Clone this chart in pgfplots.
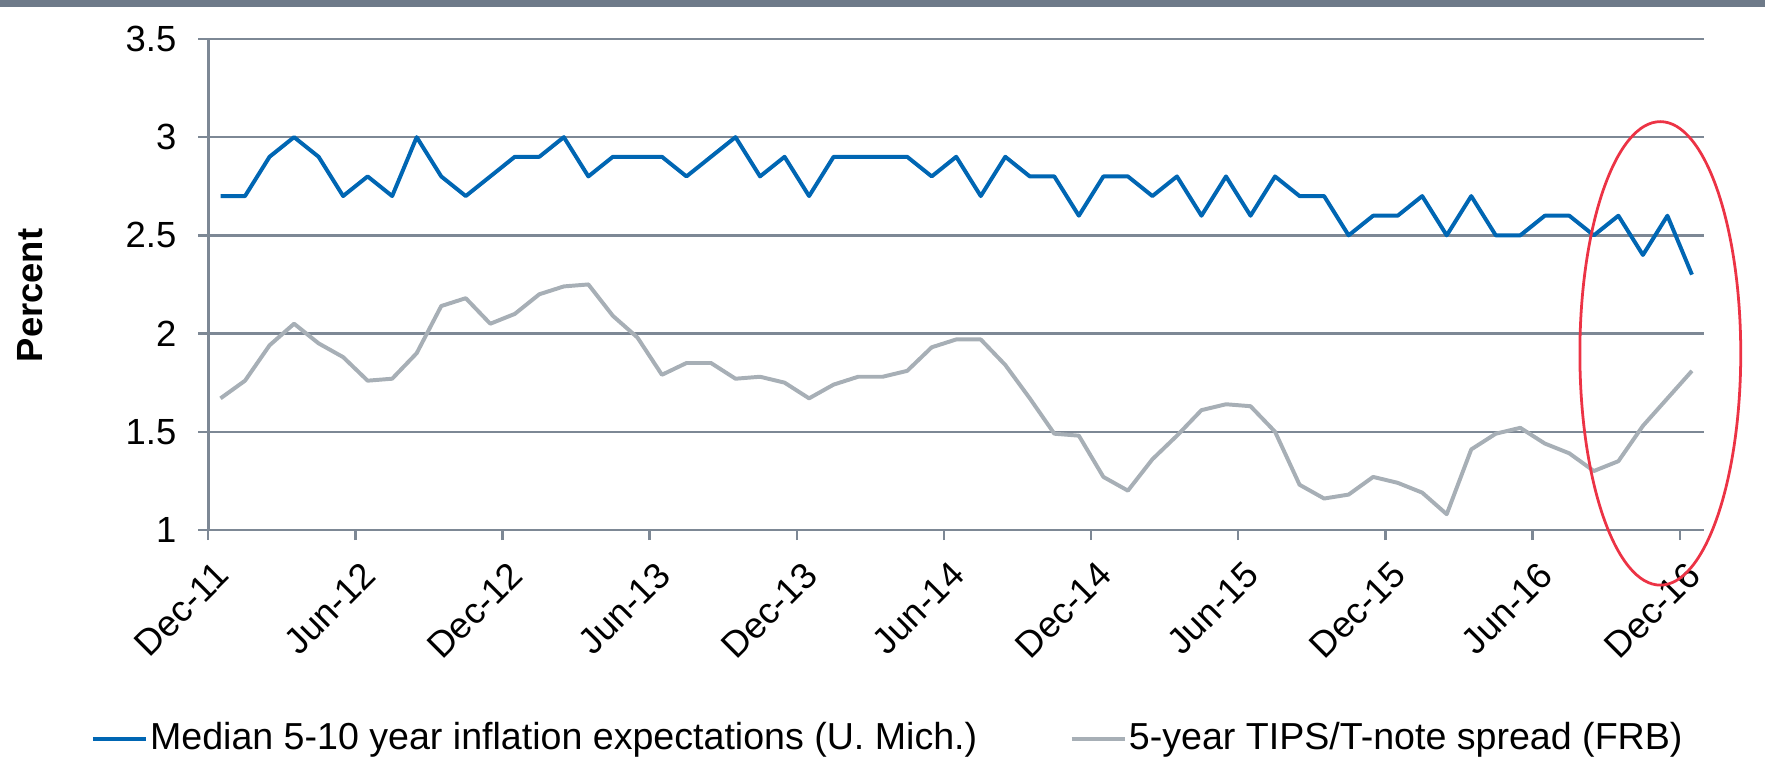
\documentclass[border=0pt]{standalone}
\usepackage{fontspec}
\setmainfont{Liberation Sans}
\usepackage{pgfplots}
\usepackage{pgfplotstable}
\pgfplotsset{compat=1.18}

\definecolor{michblue}{HTML}{0066B3}
\definecolor{tipsgray}{HTML}{A7AFB6}
\definecolor{axisgray}{HTML}{7D8895}
\definecolor{topbar}{HTML}{6E7A89}
\definecolor{ringred}{HTML}{EC3345}

% month index: 0 = Dec-11 ... 60 = Dec-16
\pgfplotstableread{
x  mich tips
0  2.7  1.67
1  2.7  1.76
2  2.9  1.94
3  3.0  2.05
4  2.9  1.95
5  2.7  1.88
6  2.8  1.76
7  2.7  1.77
8  3.0  1.90
9  2.8  2.14
10 2.7  2.18
11 2.8  2.05
12 2.9  2.10
13 2.9  2.20
14 3.0  2.24
15 2.8  2.25
16 2.9  2.09
17 2.9  1.98
18 2.9  1.79
19 2.8  1.85
20 2.9  1.85
21 3.0  1.77
22 2.8  1.78
23 2.9  1.75
24 2.7  1.67
25 2.9  1.74
26 2.9  1.78
27 2.9  1.78
28 2.9  1.81
29 2.8  1.93
30 2.9  1.97
31 2.7  1.97
32 2.9  1.84
33 2.8  1.67
34 2.8  1.49
35 2.6  1.48
36 2.8  1.27
37 2.8  1.20
38 2.7  1.36
39 2.8  1.48
40 2.6  1.61
41 2.8  1.64
42 2.6  1.63
43 2.8  1.50
44 2.7  1.23
45 2.7  1.16
46 2.5  1.18
47 2.6  1.27
48 2.6  1.24
49 2.7  1.19
50 2.5  1.08
51 2.7  1.41
52 2.5  1.49
53 2.5  1.52
54 2.6  1.44
55 2.6  1.39
56 2.5  1.30
57 2.6  1.35
58 2.4  1.53
59 2.6  1.67
60 2.3  1.81
}\datatable

\begin{document}
\begin{tikzpicture}
\path (0,0) rectangle (15.68,6.79);
\fill[topbar] (0,6.73) rectangle (15.68,6.79);
\begin{axis}[
    at={(1.85cm,2.082cm)}, anchor=south west,
    scale only axis,
    width=13.29cm, height=4.362cm,
    xmin=-0.5, xmax=60.5,
    ymin=1, ymax=3.5,
    ytick={1,1.5,2,2.5,3,3.5},
    xtick={-0.5,5.5,11.5,17.5,23.5,29.5,35.5,41.5,47.5,53.5,59.5},
    xticklabels={Dec-11,Jun-12,Dec-12,Jun-13,Dec-13,Jun-14,Dec-14,Jun-15,Dec-15,Jun-16,Dec-16},
    axis x line*=bottom, axis y line*=left,
    axis line style={axisgray, line width=0.7pt},
    tick style={axisgray, line width=0.6pt},
    tick align=outside,
    major tick length=0.09cm,
    ymajorgrids,
    grid style={axisgray, line width=0.6pt},
    /pgf/number format/assume math mode=true,
    ticklabel style={font=\fontsize{9.2}{10}\selectfont},
    yticklabel style={xshift=-0.07cm},
    xticklabel style={rotate=45, anchor=north east, xshift=0.03cm, yshift=-0.03cm},
    ylabel={Percent},
    ylabel style={at={(axis description cs:-0.119,0.4775)}, anchor=center, font=\fontsize{9.2}{10}\selectfont\bfseries},
    legend columns=2,
    legend style={at={(axis description cs:-0.079,-0.4257)}, anchor=west, draw=none, fill=none,
        inner sep=0pt, font=\fontsize{9.5}{10}\selectfont,
        nodes={inner xsep=0.6pt},
        /tikz/every even column/.append style={column sep=0.8cm}},
    legend image code/.code={\draw[#1] (0cm,0cm) -- (0.47cm,0cm);},
    clip=false,
]
\addplot[michblue, line width=1.0pt, line join=round] table[x=x, y=mich] {\datatable};
\addlegendentry{Median 5-10 year inflation expectations (U. Mich.)}
\addplot[tipsgray, line width=1.0pt, line join=round] table[x=x, y=tips] {\datatable};
\addlegendentry{5-year TIPS/T-note spread (FRB)}
\draw[ringred, line width=0.7pt] (axis cs:58.71,1.899) ellipse [x radius=3.28, y radius=1.18];
\end{axis}
\end{tikzpicture}
\end{document}
